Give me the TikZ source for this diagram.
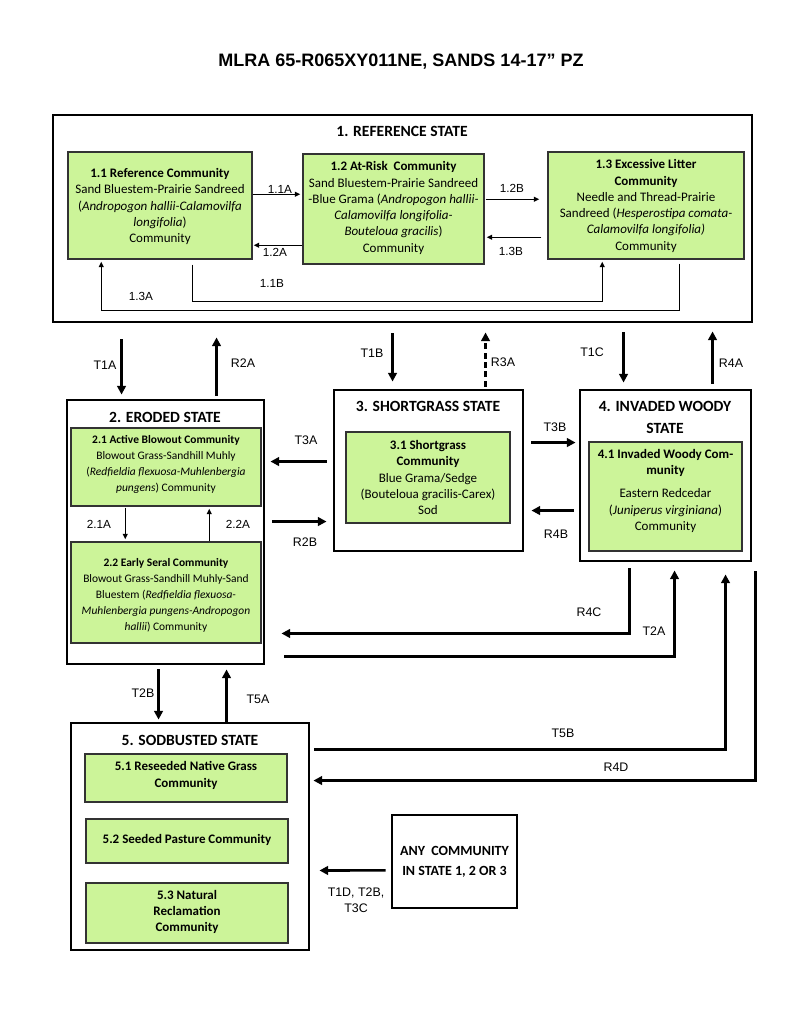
\documentclass[tikz,border=0pt]{standalone}
\usepackage{fontspec}
\setmainfont{Carlito}
\newfontfamily\arialf{Liberation Sans}
\usetikzlibrary{fit,calc,arrows.meta}
\definecolor{commgreen}{RGB}{204,244,153}
\tikzset{
  statebox/.style={draw=black, line width=2.2pt, inner sep=0pt},
  commbox/.style={draw=black!80, fill=commgreen, line width=1.1pt, inner sep=0pt},
  anybox/.style={draw=black, line width=2pt, inner sep=0pt},
  commtext/.style={align=center, inner sep=0pt, font=\fontsize{9.75}{12.2}\selectfont},
  smalltext/.style={align=center, inner sep=0pt, font=\fontsize{8.6}{12}\selectfont},
  statetitle/.style={align=center, inner sep=0pt, font=\fontsize{11.7}{16.5}\selectfont\bfseries},
  lbl/.style={inner sep=0pt, font=\arialf\fontsize{9.3}{10}\selectfont},
  ilbl/.style={inner sep=0pt, font=\arialf\fontsize{8.8}{10}\selectfont},
  bigarrow/.style={line width=2pt, -{Triangle[length=6.5pt,width=6.5pt]}},
  thinarrow/.style={line width=0.9pt, -{Triangle[length=4pt,width=3.6pt]}},
}
\begin{document}
\begin{tikzpicture}[x=0.75pt,y=-0.75pt]
\fill[white] (0,0) rectangle (800,1035);
\useasboundingbox (0,0) rectangle (800,1035);

\node[inner sep=0pt, font=\arialf\fontsize{13.5}{16}\selectfont\bfseries] (title) at (401,62) {MLRA 65-R065XY011NE, SANDS 14-17” PZ};

% state boxes
\node[statebox, fit={(53,115) (752,322)}] (s1) {};
\node[statebox, fit={(67,400) (264,664)}] (s2) {};
\node[statebox, fit={(334,390) (523,551)}] (s3) {};
\node[statebox, fit={(580,390) (751,561)}] (s4) {};
\node[statebox, fit={(71,723) (309,950)}] (s5) {};
\node[anybox, fit={(392,815) (517,908)}] (any) {};

% state titles
\node[statetitle] (s1t) at (402,131) {1. REFERENCE STATE};
\node[statetitle] (s2t) at (165,417) {2. ERODED STATE};
\node[statetitle] (s3t) at (428,406) {3. SHORTGRASS STATE};
\node[statetitle] (s4t) at (665,417) {4. INVADED WOODY\\STATE};
\node[statetitle] (s5t) at (190,740) {5. SODBUSTED STATE};

% community boxes
\node[commbox, fit={(68,152) (252,259)}] (c11) {};
\node[commbox, fit={(303,154) (484,264)}] (c12) {};
\node[commbox, fit={(548,152) (744,259)}] (c13) {};
\node[commbox, fit={(71,428) (261,506)}] (c21) {};
\node[commbox, fit={(71,542) (261,643)}] (c22) {};
\node[commbox, fit={(346,432) (510,523)}] (c31) {};
\node[commbox, fit={(589,442) (742,551)}] (c41) {};
\node[commbox, fit={(85,754) (287,802)}] (c51) {};
\node[commbox, fit={(86,819) (288,863)}] (c52) {};
\node[commbox, fit={(86,883) (288,943)}] (c53) {};

% community texts
\node[commtext] (c11t) at (160,206.5) {\textbf{1.1 Reference Community}\\Sand Bluestem-Prairie Sandreed\\(\textit{Andropogon hallii-Calamovilfa}\\\textit{longifolia})\\Community};
\node[commtext] (c12t) at (393.5,208) {\textbf{1.2 At-Risk\ \ Community}\\Sand Bluestem-Prairie Sandreed\\-Blue Grama (\textit{Andropogon hallii-}\\\textit{Calamovilfa longifolia-}\\\textit{Bouteloua gracilis})\\Community};
\node[commtext] (c13t) at (646,206) {\textbf{1.3 Excessive Litter}\\\textbf{Community}\\Needle and Thread-Prairie\\Sandreed (\textit{Hesperostipa comata-}\\\textit{Calamovilfa longifolia)}\\Community};
\node[smalltext] (c21t) at (166,464) {\textbf{2.1 Active Blowout Community}\\Blowout Grass-Sandhill Muhly\\(\textit{Redfieldia flexuosa-Muhlenbergia}\\\textit{pungens}) Community};
\node[smalltext] (c22t) at (166,595.5) {\textbf{2.2 Early Seral Community}\\Blowout Grass-Sandhill Muhly-Sand\\Bluestem (\textit{Redfieldia flexuosa-}\\\textit{Muhlenbergia pungens-Andropogon}\\\textit{hallii}) Community};
\node[commtext] (c31t) at (428,477.5) {\textbf{3.1 Shortgrass}\\\textbf{Community}\\Blue Grama/Sedge\\(Bouteloua gracilis-Carex)\\Sod};
\node[commtext] (c41t) at (665.5,491) {\textbf{4.1 Invaded Woody Com-}\\\textbf{munity}\\[5pt]Eastern Redcedar\\(\textit{Juniperus virginiana})\\Community};
\node[commtext, font=\fontsize{9.75}{12.2}\selectfont\bfseries] (c51t) at (186,775.5) {5.1 Reseeded Native Grass\\Community};
\node[commtext, font=\fontsize{9.75}{12.2}\selectfont\bfseries] (c52t) at (187,840) {5.2 Seeded Pasture Community};
\node[commtext, font=\fontsize{9.75}{12.2}\selectfont\bfseries] (c53t) at (187,912) {5.3 Natural\\Reclamation\\Community};
\node[align=center, inner sep=0pt, font=\fontsize{10.5}{15}\selectfont\bfseries] (anyt) at (454.5,862) {ANY\ \ COMMUNITY\\IN STATE 1, 2 OR 3};

% intra-state arrows
\draw[thinarrow] ($(c11.north east)+(0,43)$) -- ($(c12.north west)+(-2,41)$);
\draw[thinarrow] ($(c12.north west)+(0,92)$) -- ($(c11.north east)+(1,94)$);
\draw[thinarrow] ($(c12.north east)+(1,46)$) -- ($(c13.north west)+(-8,48)$);
\draw[thinarrow] ($(c13.north west)+(-6,86)$) -- ($(c12.north east)+(2,84)$);
\draw[thinarrow] ($(c11.south west)+(125,5)$) |- ($(c13.south west)+(55,42)$) -- ($(c13.south west)+(55,2)$);
\draw[thinarrow] ($(c13.south west)+(132,4)$) |- ($(c11.south west)+(34,51)$) -- ($(c11.south west)+(34,2)$);
\draw[thinarrow] ($(c21.south west)+(55,1)$) -- ($(c22.north west)+(55,-2)$);
\draw[thinarrow] ($(c22.north west)+(139,0)$) -- ($(c21.south west)+(139,2)$);

% intra-state labels
\node[ilbl] (l11a) at (280,189) {1.1A};
\node[ilbl] (l12a) at (275,252) {1.2A};
\node[ilbl] (l12b) at (512,188) {1.2B};
\node[ilbl] (l13b) at (511,251) {1.3B};
\node[ilbl] (l11b) at (272,283) {1.1B};
\node[ilbl] (l13a) at (141,296) {1.3A};
\node[ilbl] (l21a) at (99,524) {2.1A};
\node[ilbl] (l22a) at (238,524) {2.2A};

% inter-state arrows
\draw[bigarrow] ($(s1.south west)+(70,16)$) -- ($(s2.north west)+(56,-4)$);
\draw[bigarrow] ($(s2.north west)+(151,-3)$) -- ($(s1.south west)+(165,14)$);
\draw[bigarrow] ($(s1.south west)+(341,10)$) -- ($(s3.north west)+(60,-7)$);
\draw[bigarrow, dash pattern=on 4.5pt off 2.5pt] ($(s3.north west)+(153,-2)$) -- ($(s1.south west)+(434,9)$);
\draw[bigarrow] ($(s1.south west)+(572,9)$) -- ($(s4.north west)+(45,-6)$);
\draw[bigarrow] ($(s4.north west)+(134,-5)$) -- ($(s1.south west)+(661,8)$);
\draw[bigarrow] ($(s3.north west)+(-6,73)$) -- ($(s2.north east)+(5,63)$);
\draw[bigarrow] ($(s2.north east)+(7,123)$) -- ($(s3.north west)+(-6,133)$);
\draw[bigarrow] ($(s3.north east)+(7,54)$) -- ($(s4.north west)+(-3,54)$);
\draw[bigarrow] ($(s4.north west)+(-5,122)$) -- ($(s3.north east)+(7,122)$);
\draw[bigarrow] ($(s4.south west)+(51,6)$) |- ($(s2.south east)+(16,-32)$);
\draw[bigarrow] ($(s2.south east)+(19,-9)$) -| ($(s4.south west)+(96,8)$);
\draw[bigarrow] ($(s5.north east)+(4,28)$) -| ($(s4.south west)+(147,12)$);
\draw[bigarrow] ($(s4.south east)+(3,9)$) |- ($(s5.north east)+(3,59)$);
\draw[bigarrow] ($(s2.south west)+(93,4)$) -- ($(s5.north west)+(89,-2)$);
\draw[bigarrow] ($(s5.north west)+(157,0)$) -- ($(s2.south west)+(161,4)$);
\draw[bigarrow] ($(any.south west)+(-5,-39)$) -- ($(s5.south east)+(9,-81)$);

% inter-state labels
\node[lbl] (lt1a) at (105,365) {T1A};
\node[lbl] (lr2a) at (243,363) {R2A};
\node[lbl] (lt1b) at (372,353) {T1B};
\node[lbl] (lr3a) at (503,362) {R3A};
\node[lbl] (lt1c) at (592,352) {T1C};
\node[lbl] (lr4a) at (731,363) {R4A};
\node[lbl] (lt3a) at (306,440) {T3A};
\node[lbl] (lr2b) at (305,542) {R2B};
\node[lbl] (lt3b) at (555,427) {T3B};
\node[lbl] (lr4b) at (556,534) {R4B};
\node[lbl] (lr4c) at (589,612) {R4C};
\node[lbl] (lt2a) at (654,631) {T2A};
\node[lbl] (lt5b) at (563,733) {T5B};
\node[lbl] (lr4d) at (616,767) {R4D};
\node[lbl] (lt2b) at (143,693) {T2B};
\node[lbl] (lt5a) at (258,699) {T5A};
\node[lbl, align=center, font=\arialf\fontsize{9.3}{12}\selectfont] (lany) at (356,900) {T1D, T2B,\\T3C};
\end{tikzpicture}
\end{document}
